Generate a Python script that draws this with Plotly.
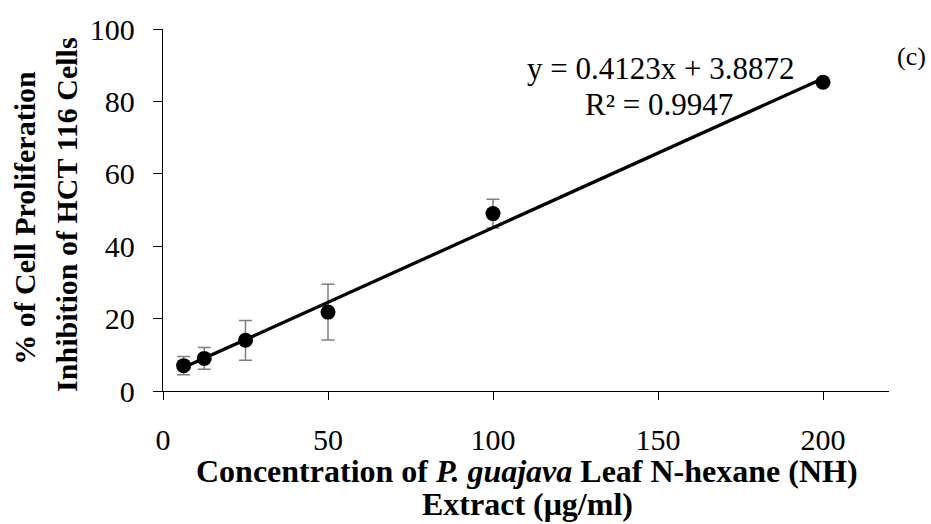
import plotly.graph_objects as go

conc = [6.25, 12.5, 25, 50, 100, 200]
inhibition = [7.0, 9.0, 14.0, 21.8, 49.0, 85.3]
err = [2.5, 3.0, 5.5, 7.7, 4.0, 0.5]
slope = 0.4123
intercept = 3.8872
x_ticks = [0, 50, 100, 150, 200]
y_ticks = [0, 20, 40, 60, 80, 100]
eq_lines = ["y = 0.4123x + 3.8872", "R² = 0.9947"]
x_title_lines = ["<b>Concentration of <i>P. guajava</i> Leaf N-hexane (NH)</b>", "<b>Extract (μg/ml)</b>"]
y_title_lines = ["<b>% of Cell Proliferation</b>", "<b>Inhibition of HCT 116 Cells</b>"]
panel_label = "(c)"

font_family = "Liberation Serif, Times New Roman, serif"

L, R, T, B = 163, 42, 23, 133
W, H = 931, 524
pw, ph = W - L - R, H - T - B


def px_to_paper(px, py):
    return (px - L) / pw, (H - B - py) / ph


fig = go.Figure()
fig.add_trace(go.Scatter(
    x=conc, y=inhibition, mode="markers",
    marker=dict(color="black", size=15),
    error_y=dict(type="data", array=err, color="#7f7f7f", thickness=1.5, width=6.5),
    showlegend=False,
))
trend_x = [conc[0], conc[-1]]
trend_y = [slope * v + intercept for v in trend_x]
fig.add_trace(go.Scatter(
    x=trend_x, y=trend_y, mode="lines",
    line=dict(color="black", width=3.3), showlegend=False,
))


def add_text(text, px, py, size, angle=0):
    ax, ay = px_to_paper(px, py)
    fig.add_annotation(x=ax, y=ay, xref="paper", yref="paper", text=text, showarrow=False,
                       xanchor="center", yanchor="middle", textangle=angle,
                       font=dict(family=font_family, size=size, color="black"))


add_text(eq_lines[0], 660, 63, 31)
add_text(eq_lines[1], 659, 100, 31)
add_text(panel_label, 911, 51, 26)
add_text(x_title_lines[0], 527, 472, 32)
add_text(x_title_lines[1], 527, 506, 32)
add_text(y_title_lines[0], 25, 215, 30, -90)
add_text(y_title_lines[1], 67, 212, 30, -90)

fig.update_layout(
    width=W, height=H,
    margin=dict(l=L, r=R, t=T, b=B),
    plot_bgcolor="white", paper_bgcolor="white",
    font=dict(family=font_family, color="black", size=30),
)

fig.update_xaxes(range=[0, 220], tickvals=x_ticks, showline=True, linecolor="black", linewidth=1.3,
                 ticks="outside", ticklen=8, tickcolor="black", tickwidth=1.3,
                 showgrid=False, zeroline=False,
                 tickfont=dict(size=30), ticklabelstandoff=14)
fig.update_yaxes(range=[0, 100], tickvals=y_ticks, showline=True, linecolor="black", linewidth=1.3,
                 ticks="outside", ticklen=9, tickcolor="black", tickwidth=1.3,
                 showgrid=False, zeroline=False,
                 tickfont=dict(size=30), ticklabelstandoff=12)

fig.write_html("out.html")
